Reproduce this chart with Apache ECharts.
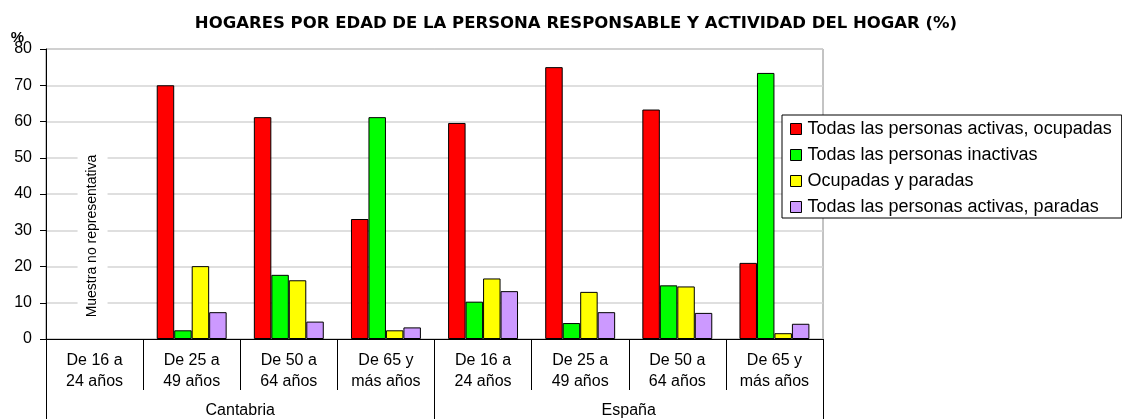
<!DOCTYPE html>
<html>
<head>
<meta charset="utf-8">
<script src="https://cdn.jsdelivr.net/npm/echarts@6/dist/echarts.min.js"></script>
<style>
  html, body { margin: 0; padding: 0; background: #fff; }
  #chart { width: 1122px; height: 419px; }
</style>
</head>
<body>
<div id="chart"></div>
<script>
// categorías
const ages = ['De 16 a\n24 años', 'De 25 a\n49 años', 'De 50 a\n64 años', 'De 65 y\nmás años',
              'De 16 a\n24 años', 'De 25 a\n49 años', 'De 50 a\n64 años', 'De 65 y\nmás años'];
const regions = ['Cantabria', 'España'];
const seriesNames = [
  'Todas las personas activas, ocupadas',
  'Todas las personas inactivas',
  'Ocupadas y paradas',
  'Todas las personas activas, paradas'
];
// valores (%) - Cantabria 16-24: muestra no representativa
const activasOcupadas = [null, 70.0, 61.2, 33.1, 59.6, 75.0, 63.3, 21.0];
const inactivas       = [null, 2.4, 17.7, 61.2, 10.3, 4.4, 14.8, 73.4];
const ocupadasParadas = [null, 20.1, 16.2, 2.4, 16.7, 13.0, 14.5, 1.6];
const activasParadas  = [null, 7.4, 4.8, 3.2, 13.2, 7.4, 7.2, 4.2];
const yTicks = [0, 10, 20, 30, 40, 50, 60, 70, 80];
const colors = ['#FF0000', '#00FF00', '#FFFF00', '#CC99FF'];

const chart = echarts.init(document.getElementById('chart'));
const font = 'Liberation Sans, Arial, sans-serif';

const makeSeries = (name, data, i) => ({
  name: name,
  type: 'bar',
  data: data,
  barGap: 0,
  barCategoryGap: '28%',
  silent: true,
  itemStyle: { color: colors[i], borderColor: '#000', borderWidth: 1 }
});

chart.setOption({
  animation: false,
  title: {
    text: 'HOGARES POR EDAD DE LA PERSONA RESPONSABLE Y ACTIVIDAD DEL HOGAR (%)',
    left: 571,
    textAlign: 'center',
    top: 10,
    textStyle: { fontFamily: 'DejaVu Sans', fontWeight: 'bold', fontSize: 16.5, color: '#000' }
  },
  legend: {
    orient: 'vertical',
    left: 782,
    top: 115,
    itemWidth: 11,
    itemHeight: 11,
    itemGap: 8,
    padding: [5, 10, 2, 8],
    borderColor: '#000',
    borderWidth: 1,
    backgroundColor: '#fff',
    icon: 'rect',
    textStyle: { fontFamily: font, fontSize: 18, color: '#000', padding: [0, 0, 0, 1] },
    itemStyle: { borderColor: '#000', borderWidth: 1 },
    data: seriesNames
  },
  grid: {
    left: 46, right: 299, top: 49, bottom: 80,
    show: true, borderColor: '#888', borderWidth: 1
  },
  xAxis: [{
    type: 'category',
    data: ages,
    axisLine: { show: true, lineStyle: { color: '#000', width: 1 } },
    axisTick: { show: true, length: 51, interval: 0, lineStyle: { color: '#000', width: 1 } },
    axisLabel: { interval: 0, margin: 11, lineHeight: 21, fontFamily: font, fontSize: 16, color: '#000' }
  }, {
    type: 'category',
    data: regions,
    position: 'bottom',
    axisLine: { show: false },
    axisTick: { show: true, length: 80, interval: 0, lineStyle: { color: '#000', width: 1 } },
    axisLabel: { margin: 64, fontFamily: font, fontSize: 16, color: '#000' }
  }],
  yAxis: {
    type: 'value',
    min: yTicks[0],
    max: yTicks[yTicks.length - 1],
    interval: 10,
    name: '%',
    nameLocation: 'end',
    nameGap: 11,
    nameMoveOverlap: false,
    nameTextStyle: { fontFamily: font, fontWeight: 'bold', fontSize: 15, color: '#000', align: 'right', verticalAlign: 'middle', padding: [0, 22, 0, 0] },
    axisLine: { show: true, lineStyle: { color: '#000' } },
    axisTick: { show: true, length: 6, lineStyle: { color: '#000' } },
    axisLabel: { margin: 14, fontFamily: font, fontSize: 16, color: '#000', padding: [4, 0, 0, 0] },
    splitLine: { lineStyle: { color: '#d4d4d4', width: 1.5 } }
  },
  series: [
    makeSeries(seriesNames[0], activasOcupadas, 0),
    makeSeries(seriesNames[1], inactivas, 1),
    makeSeries(seriesNames[2], ocupadasParadas, 2),
    makeSeries(seriesNames[3], activasParadas, 3)
  ]
});

// nota vertical sobre la categoría sin datos
const p = chart.convertToPixel({ xAxisIndex: 0, yAxisIndex: 0 }, [0, 28.4]);
chart.setOption({
  graphic: [{
    type: 'text',
    x: p[0] - 2,
    y: p[1],
    rotation: Math.PI / 2,
    z: 10,
    style: {
      text: 'Muestra no representativa',
      font: '14px ' + font,
      fill: '#000',
      align: 'center',
      verticalAlign: 'middle',
      backgroundColor: '#fff',
      padding: [8, 8]
    }
  }]
});
</script>
</body>
</html>
